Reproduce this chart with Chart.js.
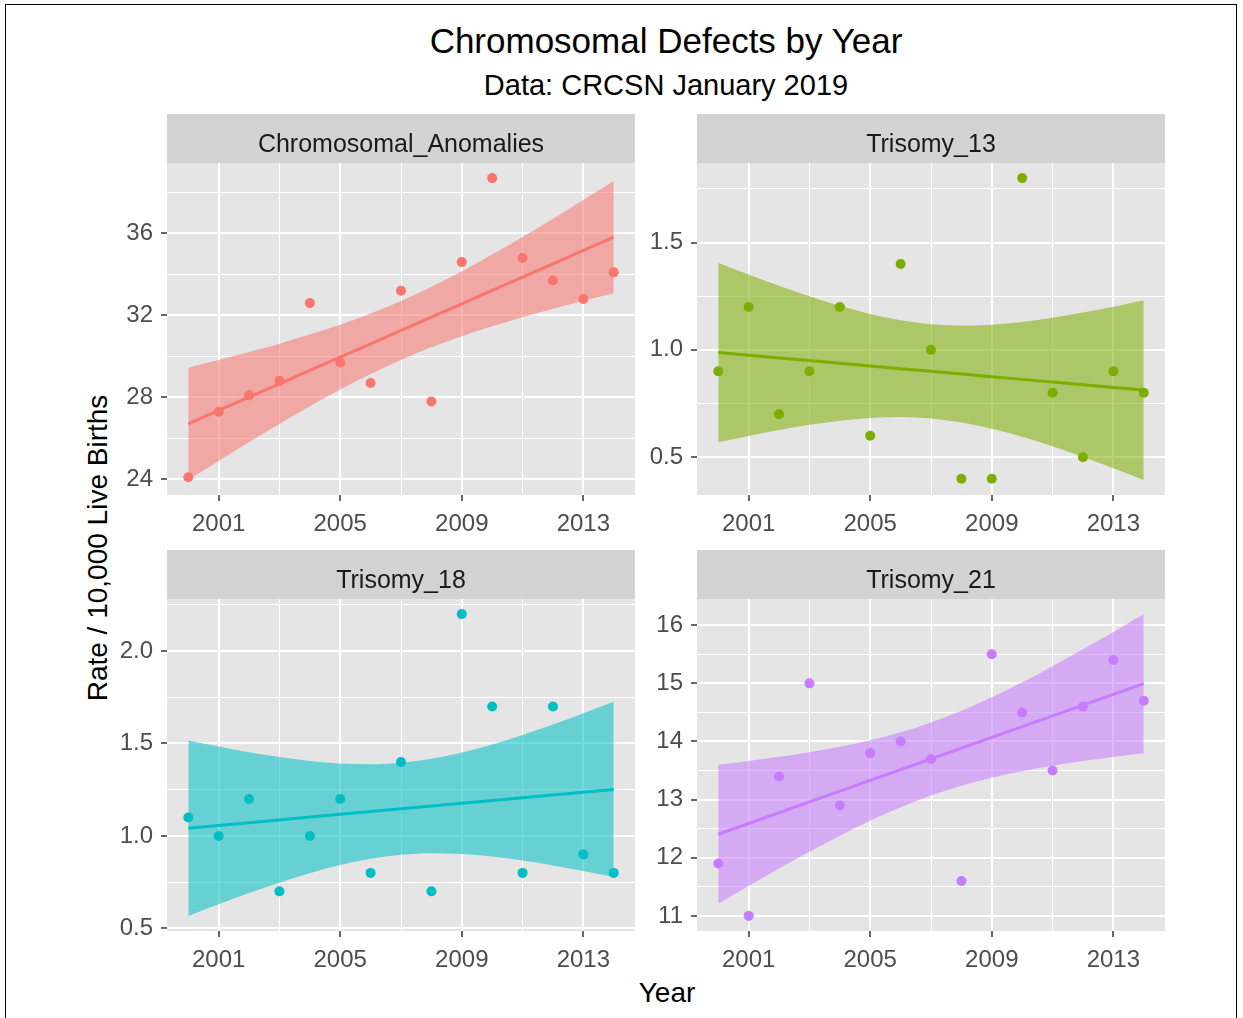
<!DOCTYPE html>
<html>
<head>
<meta charset="utf-8">
<title>Chromosomal Defects by Year</title>
<script src="https://cdn.jsdelivr.net/npm/chart.js@4.4.1/dist/chart.umd.min.js"></script>
<style>
  body { margin: 0; background: #fff; font-family: "Liberation Sans", Arial, sans-serif; }
  #page { position: relative; width: 1243px; height: 1018px; overflow: hidden; }
  #frame { position: absolute; left: 5px; top: 4px; width: 1230px; height: 1040px; border: 1.5px solid #000; }
  .txt { position: absolute; white-space: nowrap; color: #000; line-height: 1; transform: translate(-50%, -50%); }
  canvas { position: absolute; }
</style>
</head>
<body>
<div id="page">
  <div id="frame"></div>
  <div class="txt" style="left:666px; top:40px; font-size:35px;">Chromosomal Defects by Year</div>
  <div class="txt" style="left:666px; top:85px; font-size:29px;">Data: CRCSN January 2019</div>
  <div class="txt" style="left:98px; top:548px; font-size:28px; transform: translate(-50%, -50%) rotate(-90deg);">Rate / 10,000 Live Births</div>
  <div class="txt" style="left:667px; top:993px; font-size:28px;">Year</div>

  <canvas id="c0" width="540" height="425" style="left:100px; top:114px;"></canvas>
  <canvas id="c1" width="540" height="425" style="left:630px; top:114px;"></canvas>
  <canvas id="c2" width="540" height="425" style="left:100px; top:550px;"></canvas>
  <canvas id="c3" width="540" height="425" style="left:630px; top:550px;"></canvas>
</div>

<script>
// ================= DATA =================
const years = [2000, 2001, 2002, 2003, 2004, 2005, 2006, 2007, 2008, 2009, 2010, 2011, 2012, 2013, 2014];

const chromosomalAnomalies = [24.1, 27.3, 28.1, 28.8, 32.6, 29.7, 28.7, 33.2, 27.8, 34.6, 38.7, 34.8, 33.7, 32.8, 34.1];
const trisomy13 = [0.9, 1.2, 0.7, 0.9, 1.2, 0.6, 1.4, 1.0, 0.4, 0.4, 1.8, 0.8, 0.5, 0.9, 0.8];
const trisomy18 = [1.1, 1.0, 1.2, 0.7, 1.0, 1.2, 0.8, 1.4, 0.7, 2.2, 1.7, 0.8, 1.7, 0.9, 0.8];
const trisomy21 = [11.9, 11.0, 13.4, 15.0, 12.9, 13.8, 14.0, 13.7, 11.6, 15.5, 14.5, 13.5, 14.6, 15.4, 14.7];

const panelNames = ["Chromosomal_Anomalies", "Trisomy_13", "Trisomy_18", "Trisomy_21"];
const panelColours = ["#F8766D", "#7CAE00", "#00BFC4", "#C77CFF"];

const xTickLabels = ["2001", "2005", "2009", "2013"];
const yTicksAnomalies = ["24", "28", "32", "36"];
const yTicksT13 = ["0.5", "1.0", "1.5"];
const yTicksT18 = ["0.5", "1.0", "1.5", "2.0"];
const yTicksT21 = ["11", "12", "13", "14", "15", "16"];

const panelValues = [chromosomalAnomalies, trisomy13, trisomy18, trisomy21];
const panelYTicks = [yTicksAnomalies, yTicksT13, yTicksT18, yTicksT21];

// ================= STYLE =================
const FONT = "Liberation Sans";
const PANEL_BG = "#e5e5e5";
const STRIP_BG = "#d3d3d3";
const STRIP_H = 49;

// ================= LM SMOOTH (geom_smooth method = "lm") =================
function lmSmooth(xs, ys) {
  const n = xs.length;
  const xm = xs.reduce((a, b) => a + b, 0) / n;
  const ym = ys.reduce((a, b) => a + b, 0) / n;
  let sxx = 0, sxy = 0;
  xs.forEach((x, i) => { sxx += (x - xm) ** 2; sxy += (x - xm) * (ys[i] - ym); });
  const b = sxy / sxx;
  const a = ym - b * xm;
  let sse = 0;
  xs.forEach((x, i) => { sse += (ys[i] - (a + b * x)) ** 2; });
  const s = Math.sqrt(sse / (n - 2));
  const t = 2.1604; // qt(0.975, 13)

  const fit = [], upper = [], lower = [];
  xs.forEach(x => {
    const f = a + b * x;
    const se = s * Math.sqrt(1 / n + (x - xm) ** 2 / sxx);
    fit.push({ x, y: f });
    upper.push({ x, y: f + t * se });
    lower.push({ x, y: f - t * se });
  });
  return { fit, upper, lower };
}

function hexToRgba(hex, alpha) {
  const v = parseInt(hex.slice(1), 16);
  return `rgba(${(v >> 16) & 255},${(v >> 8) & 255},${v & 255},${alpha})`;
}

// ticks with minor gridlines halfway between the labelled ones
function withMinor(majors, min, max) {
  const step = majors[1] - majors[0];
  const all = [];
  for (let v = majors[0] - step / 2; v <= majors[majors.length - 1] + step / 2 + 1e-9; v += step / 2) {
    if (v >= min && v <= max) all.push(Math.round(v * 1000) / 1000);
  }
  return all;
}

function labelFor(labels, value) {
  const i = labels.findIndex(l => Math.abs(parseFloat(l) - value) < 1e-6);
  return i >= 0 ? labels[i] : "";
}

// ================= PANEL PLUGIN (background + strip) =================
const facetPlugin = {
  id: "facet",
  beforeDraw(chart, args, opts) {
    const { ctx, chartArea: ca } = chart;
    ctx.save();
    ctx.fillStyle = PANEL_BG;
    ctx.fillRect(ca.left, ca.top, ca.right - ca.left, ca.bottom - ca.top);
    ctx.fillStyle = STRIP_BG;
    ctx.fillRect(ca.left, ca.top - STRIP_H, ca.right - ca.left, STRIP_H);
    ctx.fillStyle = "#1a1a1a";
    ctx.font = `25px "${FONT}"`;
    ctx.textAlign = "center";
    ctx.textBaseline = "alphabetic";
    ctx.fillText(opts.label, (ca.left + ca.right) / 2, ca.top - STRIP_H + 38);
    ctx.restore();
  }
};

// ================= CHARTS =================
const xMin = years[0] - 0.05 * (years[years.length - 1] - years[0]);
const xMax = years[years.length - 1] + 0.05 * (years[years.length - 1] - years[0]);
const xMajors = xTickLabels.map(Number);
const xAll = withMinor(xMajors, xMin, xMax);

function gridOpts(majors) {
  const isMajor = v => majors.some(m => Math.abs(m - v) < 1e-6);
  return {
    color: "#ffffff",
    lineWidth: c => (c.tick && isMajor(c.tick.value) ? 2 : 1),
    tickColor: c => (c.tick && isMajor(c.tick.value) ? "#333333" : "rgba(0,0,0,0)"),
    tickWidth: 1.5,
    tickLength: 6,
    drawOnChartArea: true
  };
}

panelNames.forEach((name, p) => {
  const values = panelValues[p];
  const colour = panelColours[p];
  const smooth = lmSmooth(years, values);

  const allY = values.concat(smooth.upper.map(d => d.y), smooth.lower.map(d => d.y));
  const lo = Math.min(...allY), hi = Math.max(...allY);
  const yMin = lo - 0.05 * (hi - lo), yMax = hi + 0.05 * (hi - lo);

  const yLabels = panelYTicks[p];
  const yMajors = yLabels.map(Number);
  const yAll = withMinor(yMajors, yMin, yMax);

  new Chart(document.getElementById("c" + p), {
    type: "line",
    data: {
      datasets: [
        {
          label: name,
          data: years.map((y, i) => ({ x: y, y: values[i] })),
          showLine: false,
          pointRadius: 5,
          pointBorderWidth: 0,
          pointBackgroundColor: colour,
          pointBorderColor: colour
        },
        {
          label: "fit",
          data: smooth.fit,
          borderColor: colour,
          borderWidth: 3,
          pointRadius: 0,
          fill: false
        },
        {
          label: "upper",
          data: smooth.upper,
          borderWidth: 0,
          borderColor: "rgba(0,0,0,0)",
          pointRadius: 0,
          cubicInterpolationMode: "monotone",
          backgroundColor: hexToRgba(colour, 0.55),
          fill: "+1"
        },
        {
          label: "lower",
          data: smooth.lower,
          borderWidth: 0,
          borderColor: "rgba(0,0,0,0)",
          pointRadius: 0,
          cubicInterpolationMode: "monotone",
          fill: false
        }
      ]
    },
    options: {
      responsive: false,
      animation: false,
      layout: { padding: { top: STRIP_H, right: 5, left: 0, bottom: 0 } },
      plugins: {
        legend: { display: false },
        tooltip: { enabled: false },
        facet: { label: name }
      },
      scales: {
        x: {
          type: "linear",
          min: xMin,
          max: xMax,
          afterBuildTicks: s => { s.ticks = xAll.map(v => ({ value: v })); },
          afterFit: s => { s.height = 44; },
          border: { display: false },
          grid: gridOpts(xMajors),
          ticks: {
            autoSkip: false,
            maxRotation: 0,
            padding: 9,
            color: "#4d4d4d",
            font: { family: FONT, size: 24 },
            callback: v => labelFor(xTickLabels, v)
          }
        },
        y: {
          type: "linear",
          min: yMin,
          max: yMax,
          afterBuildTicks: s => { s.ticks = yAll.map(v => ({ value: v })); },
          afterFit: s => { s.width = 67; },
          border: { display: false },
          grid: gridOpts(yMajors),
          ticks: {
            autoSkip: false,
            padding: 8,
            color: "#4d4d4d",
            font: { family: FONT, size: 24 },
            callback: v => labelFor(yLabels, v)
          }
        }
      }
    },
    plugins: [facetPlugin]
  });
});
</script>
</body>
</html>
